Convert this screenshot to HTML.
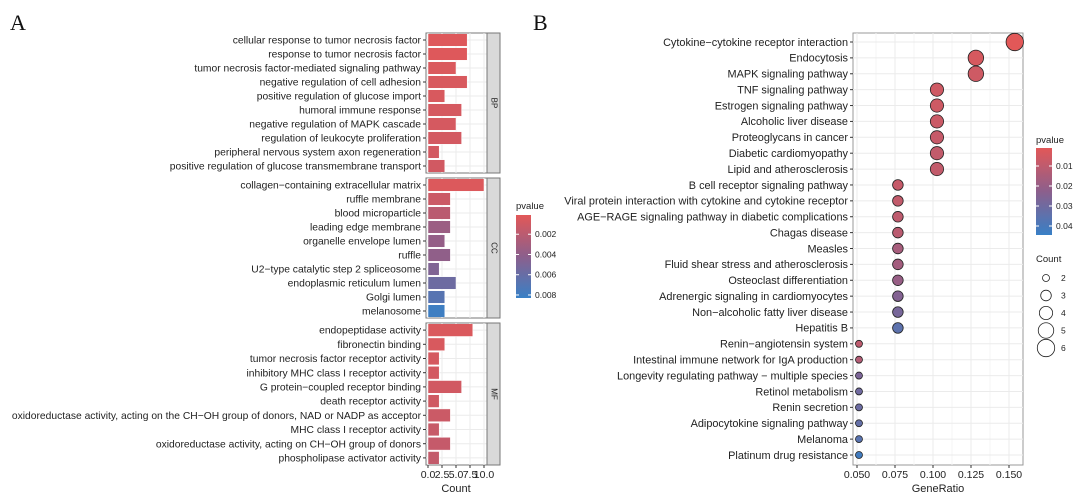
<!DOCTYPE html>
<html><head><meta charset="utf-8"><style>
body{margin:0;background:#fff;}
svg{display:block;font-family:"Liberation Sans",Arial,sans-serif;}
</style></head><body>
<svg id="c" width="1080" height="497" viewBox="0 0 1080 497"></svg>
<script>
const NS="http://www.w3.org/2000/svg";
const svg=document.getElementById('c');
function mk(t,a,p){const e=document.createElementNS(NS,t);for(const k in a)e.setAttribute(k,a[k]);(p||svg).appendChild(e);return e;}
function tx(x,y,s,a,p){const e=mk('text',Object.assign({x:x,y:y,'font-size':10.5,fill:'#222'},a),p);e.textContent=s;return e;}

// ---------- Panel A data ----------
const bpTerms=["cellular response to tumor necrosis factor","response to tumor necrosis factor","tumor necrosis factor-mediated signaling pathway","negative regulation of cell adhesion","positive regulation of glucose import","humoral immune response","negative regulation of MAPK cascade","regulation of leukocyte proliferation","peripheral nervous system axon regeneration","positive regulation of glucose transmembrane transport"];
const bpCounts=[7,7,5,7,3,6,5,6,2,3];
const bpP=[0.0003,0.0003,0.0005,0.0006,0.0006,0.0007,0.0007,0.0008,0.0008,0.0009];
const ccTerms=["collagen\u2212containing extracellular matrix","ruffle membrane","blood microparticle","leading edge membrane","organelle envelope lumen","ruffle","U2\u2212type catalytic step 2 spliceosome","endoplasmic reticulum lumen","Golgi lumen","melanosome"];
const ccCounts=[10,4,4,4,3,4,2,5,3,3];
const ccP=[0.0004,0.0012,0.002,0.0035,0.0038,0.004,0.0048,0.0057,0.0068,0.008];
const mfTerms=["endopeptidase activity","fibronectin binding","tumor necrosis factor receptor activity","inhibitory MHC class I receptor activity","G protein\u2212coupled receptor binding","death receptor activity","oxidoreductase activity, acting on the CH\u2212OH group of donors, NAD or NADP as acceptor","MHC class I receptor activity","oxidoreductase activity, acting on CH\u2212OH group of donors","phospholipase activator activity"];
const mfCounts=[8,3,2,2,6,2,4,2,4,2];
const mfP=[0.0005,0.0006,0.0007,0.0008,0.0009,0.001,0.0012,0.0014,0.0015,0.0016];
const aTicks=[0,2.5,5,7.5,10];
const aTickLabels=["0.0","2.5","5.0","7.5","10.0"];
const aLegTicks=[0.002,0.004,0.006,0.008];

// ---------- Panel B data ----------
const bTerms=["Cytokine\u2212cytokine receptor interaction","Endocytosis","MAPK signaling pathway","TNF signaling pathway","Estrogen signaling pathway","Alcoholic liver disease","Proteoglycans in cancer","Diabetic cardiomyopathy","Lipid and atherosclerosis","B cell receptor signaling pathway","Viral protein interaction with cytokine and cytokine receptor","AGE\u2212RAGE signaling pathway in diabetic complications","Chagas disease","Measles","Fluid shear stress and atherosclerosis","Osteoclast differentiation","Adrenergic signaling in cardiomyocytes","Non\u2212alcoholic fatty liver disease","Hepatitis B","Renin\u2212angiotensin system","Intestinal immune network for IgA production","Longevity regulating pathway \u2212 multiple species","Retinol metabolism","Renin secretion","Adipocytokine signaling pathway","Melanoma","Platinum drug resistance"];
const bRatio=[0.1538,0.1282,0.1282,0.1026,0.1026,0.1026,0.1026,0.1026,0.1026,0.0769,0.0769,0.0769,0.0769,0.0769,0.0769,0.0769,0.0769,0.0769,0.0769,0.0513,0.0513,0.0513,0.0513,0.0513,0.0513,0.0513,0.0513];
const bCount=[6,5,5,4,4,4,4,4,4,3,3,3,3,3,3,3,3,3,3,2,2,2,2,2,2,2,2];
const bP=[0.001,0.004,0.006,0.006,0.006,0.007,0.008,0.009,0.009,0.008,0.009,0.01,0.011,0.016,0.017,0.02,0.025,0.028,0.035,0.01,0.013,0.027,0.03,0.031,0.033,0.036,0.042];
const bTicks=[0.05,0.075,0.1,0.125,0.15];
const bTickLabels=["0.050","0.075","0.100","0.125","0.150"];
const bLegTicks=[0.01,0.02,0.03,0.04];
const sizeLeg=[2,3,4,5,6];

function mix(t){t=Math.max(0,Math.min(1,t));const r=[226,88,88],m=[140,95,140],b=[56,128,198];
 let c;if(t<0.5){const u=t/0.5;c=r.map((v,i)=>v+(m[i]-v)*u);}else{const u=(t-0.5)/0.5;c=m.map((v,i)=>v+(b[i]-v)*u);}
 return `rgb(${c.map(Math.round).join(',')})`;}

// ---------- Panel A ----------
tx(10,30,"A",{'font-size':22,'font-family':'"Liberation Serif",serif',fill:'#111'});
const ax0=428; const aX=v=>ax0+(v/10)*(484-ax0);
const aPmin=0.0001,aPmax=0.0083; const aCol=p=>mix((p-aPmin)/(aPmax-aPmin));
const facets=[{n:"BP",t:bpTerms,c:bpCounts,p:bpP,y0:33,y1:173},{n:"CC",t:ccTerms,c:ccCounts,p:ccP,y0:178,y1:318},{n:"MF",t:mfTerms,c:mfCounts,p:mfP,y0:323,y1:465}];
facets.forEach(f=>{
 const g=mk('g',{});
 mk('rect',{x:426,y:f.y0,width:61,height:f.y1-f.y0,fill:'#fff',stroke:'#777'},g);
 aTicks.forEach(v=>mk('line',{x1:aX(v),x2:aX(v),y1:f.y0,y2:f.y1,stroke:'#ebebeb'},g));
 const n=f.t.length, step=(f.y1-f.y0)/n;
 for(let i=0;i<n;i++){const y=f.y0+step*(i+0.5);
  mk('line',{x1:426,x2:487,y1:y,y2:y,stroke:'#ebebeb'},g);}
 for(let i=0;i<n;i++){const y=f.y0+step*(i+0.5);
  const b=mk('rect',{x:aX(0),y:y-step*0.45,width:aX(f.c[i])-aX(0),height:step*0.9,fill:aCol(f.p[i]),stroke:'#fff','stroke-width':0.5},g);
  
  
  mk('line',{x1:423,x2:426,y1:y,y2:y,stroke:'#333'},g);
  tx(421,y+3.6,f.t[i],{'text-anchor':'end','font-size':10.3},g);}
 mk('rect',{x:487,y:f.y0,width:13,height:f.y1-f.y0,fill:'#d9d9d9',stroke:'#777'},g);
 tx(493.5,(f.y0+f.y1)/2,f.n,{'font-size':8,'text-anchor':'middle',transform:`rotate(90 493.5 ${(f.y0+f.y1)/2})`,'dominant-baseline':'middle'},g);
});
aTicks.forEach((v,i)=>{mk('line',{x1:aX(v),x2:aX(v),y1:465,y2:468,stroke:'#333'});
 tx(aX(v),478,aTickLabels[i],{'text-anchor':'middle','font-size':10.5});});
tx(456,492,"Count",{'text-anchor':'middle','font-size':11});
const lgA=mk('g',{});
tx(516,209,"pvalue",{'font-size':9.5},lgA);
const gA=mk('linearGradient',{id:'gA',x1:0,y1:0,x2:0,y2:1},mk('defs',{},lgA));
for(let k=0;k<=10;k++)mk('stop',{offset:k/10,'stop-color':mix(k/10)},gA);
mk('rect',{x:516,y:215,width:15,height:83,fill:'url(#gA)'},lgA);
aLegTicks.forEach(v=>{const y=215+(v-aPmin)/(aPmax-aPmin)*83;
 mk('line',{x1:516,x2:519,y1:y,y2:y,stroke:'#fff'},lgA);mk('line',{x1:528,x2:531,y1:y,y2:y,stroke:'#fff'},lgA);
 tx(535,y+3,v.toFixed(3),{'font-size':8.5},lgA);});

// ---------- Panel B ----------
tx(533,30,"B",{'font-size':22,'font-family':'"Liberation Serif",serif',fill:'#111'});
const bx0=853,bx1=1023,by0=33,by1=465;
const bX=v=>857+(v-0.05)*1520;
const bStep=(455-42)/(bTerms.length-1); const bY=i=>42+i*bStep;
const bPmin=0.001,bPmax=0.0445; const bCol=p=>mix((p-bPmin)/(bPmax-bPmin));
const bR=c=>Math.sqrt(12.25+(c-2)*15.9);
const pb=mk('g',{});
mk('rect',{x:bx0,y:by0,width:bx1-bx0,height:by1-by0,fill:'#fff',stroke:'#999'},pb);
bTicks.forEach((v,i)=>{mk('line',{x1:bX(v),x2:bX(v),y1:by0,y2:by1,stroke:'#ebebeb'},pb);
 if(i<4)mk('line',{x1:bX(v+0.0125),x2:bX(v+0.0125),y1:by0,y2:by1,stroke:'#f5f5f5'},pb);});
bTerms.forEach((t,i)=>{mk('line',{x1:bx0,x2:bx1,y1:bY(i),y2:bY(i),stroke:'#ebebeb'},pb);});
bTerms.forEach((t,i)=>{const y=bY(i);
 mk('line',{x1:850,x2:853,y1:y,y2:y,stroke:'#333'},pb);
 tx(848,y+3.8,t,{'text-anchor':'end','font-size':10.9},pb);
 const c=mk('circle',{cx:bX(bRatio[i]),cy:y,r:bR(bCount[i]),fill:bCol(bP[i]),stroke:'#222','stroke-width':0.8},pb);
 
 });
bTicks.forEach((v,i)=>{mk('line',{x1:bX(v),x2:bX(v),y1:by1,y2:by1+3,stroke:'#333'});
 tx(bX(v),478,bTickLabels[i],{'text-anchor':'middle','font-size':10.5});});
tx(938,492,"GeneRatio",{'text-anchor':'middle','font-size':11});
const lgB=mk('g',{});
tx(1036,143,"pvalue",{'font-size':9.5},lgB);
const gB=mk('linearGradient',{id:'gB',x1:0,y1:0,x2:0,y2:1},mk('defs',{},lgB));
for(let k=0;k<=10;k++)mk('stop',{offset:k/10,'stop-color':mix(k/10)},gB);
mk('rect',{x:1036,y:148,width:16,height:87,fill:'url(#gB)'},lgB);
bLegTicks.forEach(v=>{const y=148+(v-bPmin)/(bPmax-bPmin)*87;
 mk('line',{x1:1036,x2:1039,y1:y,y2:y,stroke:'#fff'},lgB);mk('line',{x1:1049,x2:1052,y1:y,y2:y,stroke:'#fff'},lgB);
 tx(1056,y+3,v.toFixed(2),{'font-size':8.5},lgB);});
const lgS=mk('g',{});
tx(1036,262,"Count",{'font-size':9.5},lgS);
sizeLeg.forEach((c,i)=>{const y=278+i*17.5;
 mk('circle',{cx:1046,cy:y,r:bR(c),fill:'none',stroke:'#222','stroke-width':0.8},lgS);
 tx(1061,y+3,String(c),{'font-size':8.5},lgS);});
</script>
</body></html>
